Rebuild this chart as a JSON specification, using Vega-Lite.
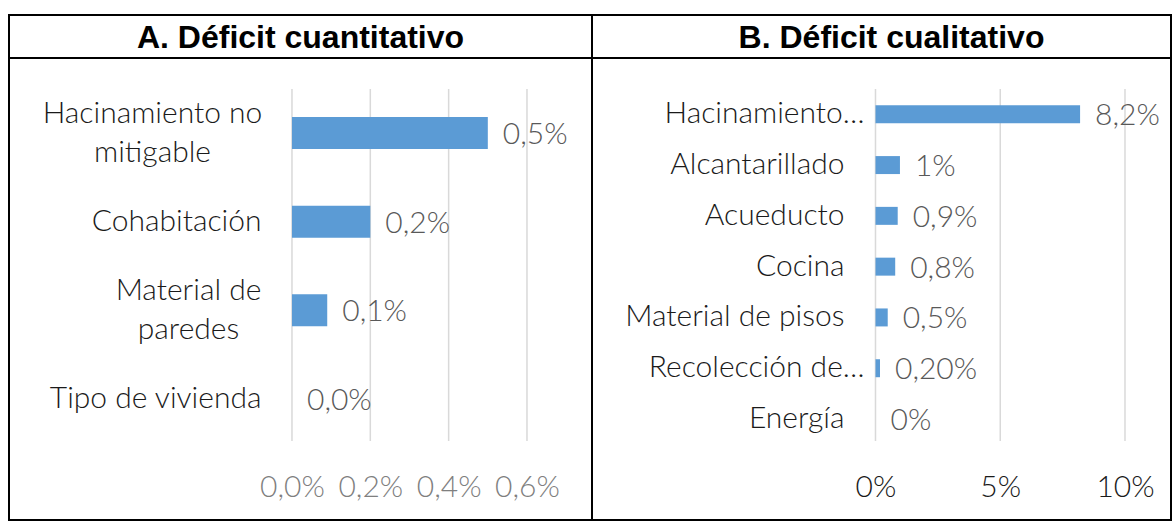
{
  "$schema": "https://vega.github.io/schema/vega-lite/v6.json",
  "padding": {"left": 8, "top": 14, "right": 0, "bottom": 0},
  "background": "white",
  "spacing": 0,
  "bounds": "flush",
  "columns": 2,
  "config": {
    "view": {"stroke": "black", "strokeWidth": 2},
    "concat": {"spacing": 0},
    "font": "Lato"
  },
  "datasets": {
    "hdrA": [{"title": "A. Déficit cuantitativo"}],
    "hdrB": [{"title": "B. Déficit cualitativo"}],
    "cuant": [
      {"cat": "Hacinamiento no mitigable", "value": 0.005, "label": "0,5%"},
      {"cat": "Cohabitación", "value": 0.002, "label": "0,2%"},
      {"cat": "Material de paredes", "value": 0.0009, "label": "0,1%"},
      {"cat": "Tipo de vivienda", "value": 0, "label": "0,0%"}
    ],
    "cual": [
      {"cat": "Hacinamiento…", "value": 0.082, "label": "8,2%"},
      {"cat": "Alcantarillado", "value": 0.0098, "label": "1%"},
      {"cat": "Acueducto", "value": 0.0089, "label": "0,9%"},
      {"cat": "Cocina", "value": 0.0079, "label": "0,8%"},
      {"cat": "Material de pisos", "value": 0.0049, "label": "0,5%"},
      {"cat": "Recolección de…", "value": 0.0018, "label": "0,20%"},
      {"cat": "Energía", "value": 0, "label": "0%"}
    ],
    "gridA": [{"v": 0}, {"v": 0.002}, {"v": 0.004}, {"v": 0.006}],
    "gridB": [{"v": 0}, {"v": 0.05}, {"v": 0.1}]
  },
  "concat": [
    {
      "width": 583, "height": 43,
      "data": {"name": "hdrA"},
      "mark": {"type": "text", "font": "Liberation Sans", "fontWeight": "bold", "fontSize": 32, "color": "black", "baseline": "middle", "dy": 1},
      "encoding": {
        "x": {"datum": 0, "type": "quantitative", "scale": {"domain": [-1, 1]}, "axis": null},
        "y": {"datum": 0, "type": "quantitative", "scale": {"domain": [-1, 1]}, "axis": null},
        "text": {"field": "title"}
      }
    },
    {
      "width": 579, "height": 43,
      "data": {"name": "hdrB"},
      "mark": {"type": "text", "font": "Liberation Sans", "fontWeight": "bold", "fontSize": 32, "color": "black", "baseline": "middle", "dy": 1, "dx": 10},
      "encoding": {
        "x": {"datum": 0, "type": "quantitative", "scale": {"domain": [-1, 1]}, "axis": null},
        "y": {"datum": 0, "type": "quantitative", "scale": {"domain": [-1, 1]}, "axis": null},
        "text": {"field": "title"}
      }
    },
    {
      "width": 583, "height": 462,
      "layer": [
        {
          "data": {"name": "gridA"},
          "mark": {"type": "rule", "color": "#d9d9d9", "strokeWidth": 1.5},
          "encoding": {
            "x": {"field": "v", "type": "quantitative", "title": null, "scale": {"domain": [-0.007225, 0.00766], "nice": false, "zero": false}},
            "y": {"datum": 0, "type": "quantitative", "scale": {"domain": [-0.2244, 1.0881], "nice": false, "zero": false}, "axis": null},
            "y2": {"datum": 1}
          }
        },
        {
          "data": {"name": "cuant"},
          "layer": [
            {
              "mark": {"type": "bar", "color": "#5b9bd5"},
              "encoding": {
                "x": {"field": "value", "type": "quantitative", "title": null,
                  "scale": {"domain": [-0.007225, 0.00766], "nice": false, "zero": false},
                  "axis": {"values": [0, 0.002, 0.004, 0.006], "labelExpr": "replace(format(datum.value, '.1%'), '.', ',')",
                    "domain": false, "ticks": false, "grid": false, "offset": -33, "labelPadding": 0, "labelBaseline": "middle",
                    "labelFont": "Lato", "labelFontSize": 30, "labelColor": "#7f7f7f", "labelFontWeight": 300}
                },
                "y": {"field": "cat", "type": "nominal", "sort": null, "title": null,
                  "scale": {"paddingInner": 0.639, "paddingOuter": 0.925, "align": 0.36},
                  "axis": {"domain": false, "ticks": false, "grid": false, "offset": -252, "labelLimit": 0,
                    "labelFont": "Lato", "labelFontSize": 30, "labelColor": "#1a1a1a", "labelFontWeight": 300, "labelLineHeight": 39,
                    "labelExpr": "datum.value == 'Hacinamiento no mitigable' ? ['Hacinamiento no', 'mitigable'] : datum.value == 'Material de paredes' ? ['Material de', 'paredes'] : datum.label",
                    "labelAlign": {"condition": {"test": "datum.value == 'Hacinamiento no mitigable' || datum.value == 'Material de paredes'", "value": "center"}, "value": "right"},
                    "labelOffset": {"condition": {"test": "datum.value == 'Hacinamiento no mitigable' || datum.value == 'Material de paredes'", "value": -19.5}, "value": 0},
                    "labelPadding": {"condition": [
                      {"test": "datum.value == 'Hacinamiento no mitigable'", "value": 109},
                      {"test": "datum.value == 'Material de paredes'", "value": 73}
                    ], "value": 0}
                  }
                }
              }
            },
            {
              "mark": {"type": "text", "align": "left", "baseline": "middle", "dx": 15, "dy": 2, "fontSize": 30, "fontWeight": 300, "color": "#595959"},
              "encoding": {
                "x": {"field": "value", "type": "quantitative"},
                "y": {"field": "cat", "type": "nominal", "sort": null},
                "text": {"field": "label"}
              }
            }
          ]
        }
      ],
      "resolve": {"scale": {"y": "independent"}, "axis": {"y": "independent"}}
    },
    {
      "width": 579, "height": 462,
      "layer": [
        {
          "data": {"name": "gridB"},
          "mark": {"type": "rule", "color": "#d9d9d9", "strokeWidth": 1.5},
          "encoding": {
            "x": {"field": "v", "type": "quantitative", "title": null, "scale": {"domain": [-0.11363, 0.11844], "nice": false, "zero": false}},
            "y": {"datum": 0, "type": "quantitative", "scale": {"domain": [-0.2244, 1.0881], "nice": false, "zero": false}, "axis": null},
            "y2": {"datum": 1}
          }
        },
        {
          "data": {"name": "cual"},
          "layer": [
            {
              "mark": {"type": "bar", "color": "#5b9bd5"},
              "encoding": {
                "x": {"field": "value", "type": "quantitative", "title": null,
                  "scale": {"domain": [-0.11363, 0.11844], "nice": false, "zero": false},
                  "axis": {"values": [0, 0.05, 0.1], "format": ".0%",
                    "domain": false, "ticks": false, "grid": false, "offset": -33, "labelPadding": 0, "labelBaseline": "middle",
                    "labelFont": "Lato", "labelFontSize": 30, "labelColor": "#1a1a1a", "labelFontWeight": 300}
                },
                "y": {"field": "cat", "type": "nominal", "sort": null, "title": null,
                  "scale": {"range": [21.9, 395.4], "paddingInner": 0.646, "paddingOuter": 0.5, "align": 0.5},
                  "axis": {"domain": false, "ticks": false, "grid": false, "offset": -272, "labelLimit": 0,
                    "labelFont": "Lato", "labelFontSize": 30, "labelColor": "#1a1a1a", "labelFontWeight": 300, "labelAlign": "right",
                    "labelPadding": {"condition": {"test": "datum.value == 'Hacinamiento…' || datum.value == 'Recolección de…'", "value": 0}, "value": 20}
                  }
                }
              }
            },
            {
              "mark": {"type": "text", "align": "left", "baseline": "middle", "dx": 15, "dy": 2, "fontSize": 30, "fontWeight": 300, "color": "#595959"},
              "encoding": {
                "x": {"field": "value", "type": "quantitative"},
                "y": {"field": "cat", "type": "nominal", "sort": null},
                "text": {"field": "label"}
              }
            }
          ]
        }
      ],
      "resolve": {"scale": {"y": "independent"}, "axis": {"y": "independent"}}
    }
  ]
}
